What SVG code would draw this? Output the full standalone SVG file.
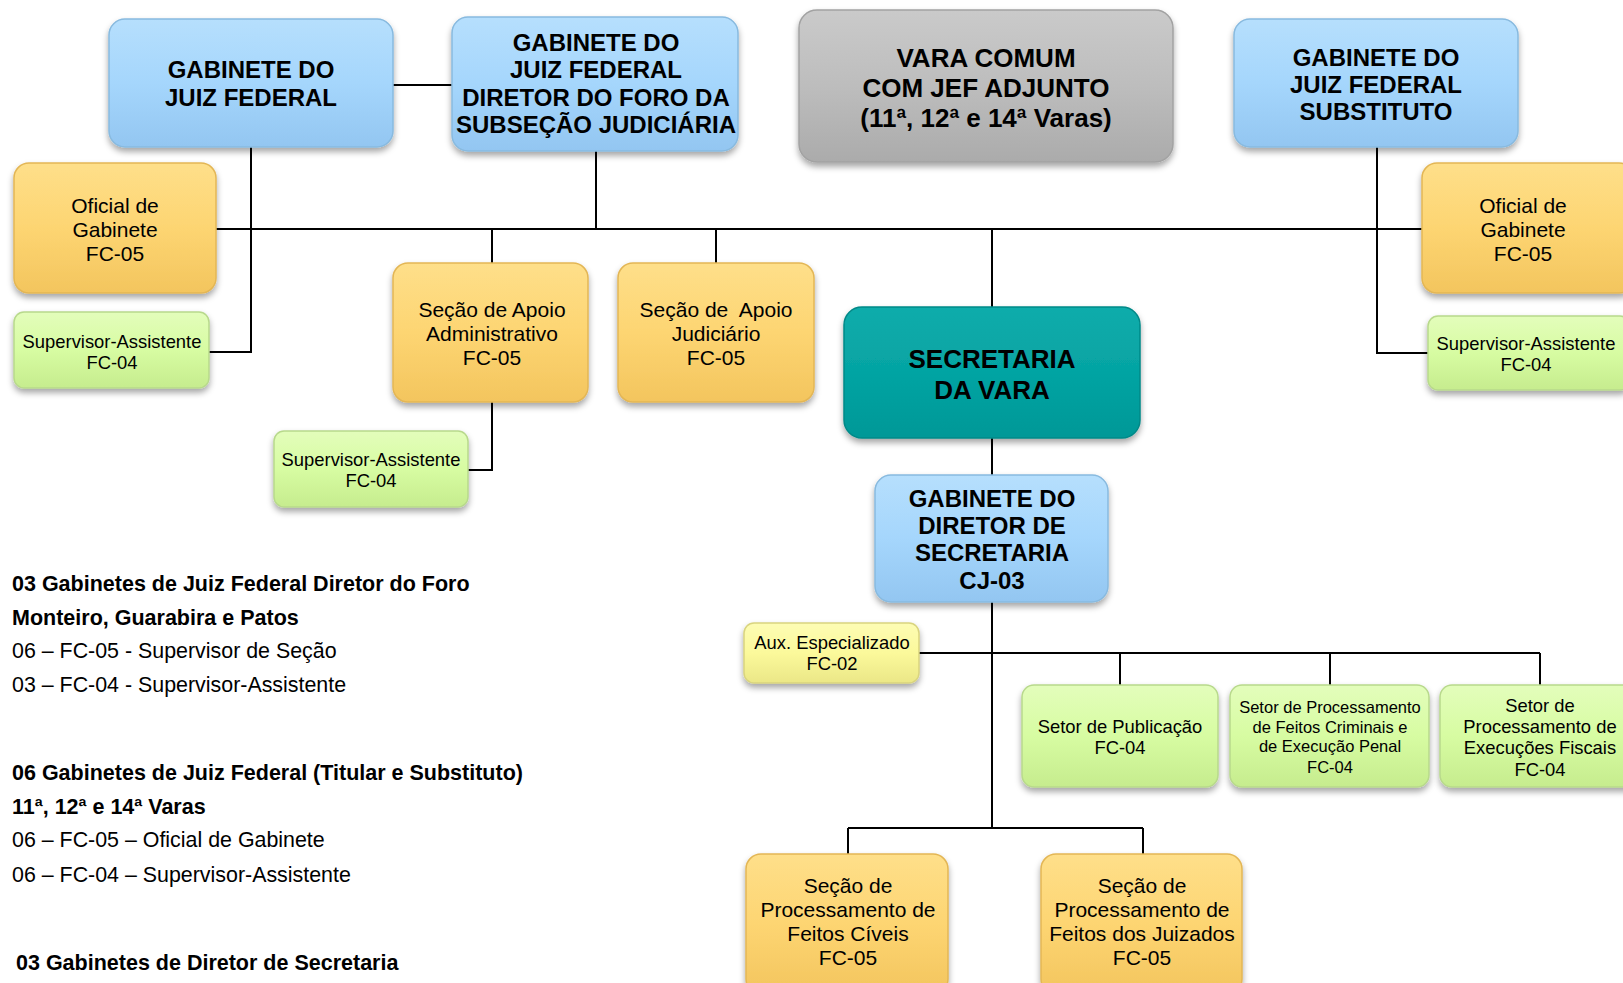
<svg xmlns="http://www.w3.org/2000/svg" width="1623" height="983" viewBox="0 0 1623 983">
<defs>
<linearGradient id="gBlue" x1="0" y1="0" x2="0" y2="1"><stop offset="0" stop-color="#b6dffd"/><stop offset="0.5" stop-color="#a5d6fc"/><stop offset="1" stop-color="#93c6f1"/></linearGradient>
<linearGradient id="gGray" x1="0" y1="0" x2="0" y2="1"><stop offset="0" stop-color="#cacaca"/><stop offset="0.5" stop-color="#bdbdbd"/><stop offset="1" stop-color="#ababab"/></linearGradient>
<linearGradient id="gOrange" x1="0" y1="0" x2="0" y2="1"><stop offset="0" stop-color="#fedf8a"/><stop offset="0.5" stop-color="#fdd572"/><stop offset="1" stop-color="#f3c55e"/></linearGradient>
<linearGradient id="gGreen" x1="0" y1="0" x2="0" y2="1"><stop offset="0" stop-color="#e3fdbb"/><stop offset="0.5" stop-color="#d7fca2"/><stop offset="1" stop-color="#c6ec8e"/></linearGradient>
<linearGradient id="gYellow" x1="0" y1="0" x2="0" y2="1"><stop offset="0" stop-color="#fdfcb4"/><stop offset="0.5" stop-color="#fbf99b"/><stop offset="1" stop-color="#ebe787"/></linearGradient>
<linearGradient id="gTeal" x1="0" y1="0" x2="0" y2="1"><stop offset="0" stop-color="#0eacab"/><stop offset="0.5" stop-color="#05a4a3"/><stop offset="1" stop-color="#049897"/></linearGradient>
<filter id="sh" x="-10%" y="-10%" width="120%" height="130%"><feDropShadow dx="0" dy="4" stdDeviation="3" flood-color="#000" flood-opacity="0.35"/></filter>
<style>
.blue{fill:url(#gBlue);stroke:#88badf;stroke-width:1.5;filter:url(#sh)}
.gray{fill:url(#gGray);stroke:#a2a2a2;stroke-width:1.5;filter:url(#sh)}
.orange{fill:url(#gOrange);stroke:#e3b655;stroke-width:1.5;filter:url(#sh)}
.green{fill:url(#gGreen);stroke:#b8d98c;stroke-width:1.5;filter:url(#sh)}
.yellow{fill:url(#gYellow);stroke:#d9d47f;stroke-width:1.5;filter:url(#sh)}
.teal{fill:url(#gTeal);stroke:#048988;stroke-width:1.5;filter:url(#sh)}
text{font-family:"Liberation Sans",Arial,sans-serif;fill:#000}
.hb{font-weight:bold;font-size:24px;text-anchor:middle}
.hv{font-weight:bold;font-size:26px;text-anchor:middle}
.hs{font-weight:bold;font-size:26px;text-anchor:middle}
.t21{font-size:21px;text-anchor:middle}
.t18{font-size:18.4px;text-anchor:middle}
.t16{font-size:16.5px;text-anchor:middle}
.lb{font-weight:bold;font-size:21.5px}
.ln{font-size:21.4px}
.conn{stroke:#000;stroke-width:2;fill:none}
</style>
</defs>

<g id="connectors">
<path class="conn" d="M393 85 H452"/>
<path class="conn" d="M251 147 V352 H209"/>
<path class="conn" d="M215 229 H1422"/>
<path class="conn" d="M596 151 V229"/>
<path class="conn" d="M492 229 V263"/>
<path class="conn" d="M716 229 V263"/>
<path class="conn" d="M992 229 V307"/>
<path class="conn" d="M1377 147 V353 H1428"/>
<path class="conn" d="M492 402 V470 H468"/>
<path class="conn" d="M992 438 V475"/>
<path class="conn" d="M992 602 V828"/>
<path class="conn" d="M919 653 H1540"/>
<path class="conn" d="M1120 653 V685"/>
<path class="conn" d="M1330 653 V685"/>
<path class="conn" d="M1540 653 V685"/>
<path class="conn" d="M848 828 H1143"/>
<path class="conn" d="M848 828 V854"/>
<path class="conn" d="M1143 828 V854"/>
</g>

<g id="gab-juiz-federal">
<rect class="blue" x="109" y="19" width="284" height="128" rx="16"/>
<text class="hb" x="251" y="78">GABINETE DO</text>
<text class="hb" x="251" y="106">JUIZ FEDERAL</text>
</g>

<g id="gab-diretor-foro">
<rect class="blue" x="452" y="17" width="286" height="134" rx="16"/>
<text class="hb" x="596" y="51">GABINETE DO</text>
<text class="hb" x="596" y="78">JUIZ FEDERAL</text>
<text class="hb" x="596" y="106">DIRETOR DO FORO DA</text>
<text class="hb" x="596" y="133">SUBSEÇÃO JUDICIÁRIA</text>
</g>

<g id="vara-comum">
<rect class="gray" x="799" y="10" width="374" height="152" rx="18"/>
<text class="hv" x="986" y="67">VARA COMUM</text>
<text class="hv" x="986" y="97">COM JEF ADJUNTO</text>
<text class="hv" x="986" y="127">(11ª, 12ª e 14ª Varas)</text>
</g>

<g id="gab-substituto">
<rect class="blue" x="1234" y="19" width="284" height="128" rx="16"/>
<text class="hb" x="1376" y="66">GABINETE DO</text>
<text class="hb" x="1376" y="93">JUIZ FEDERAL</text>
<text class="hb" x="1376" y="120">SUBSTITUTO</text>
</g>

<g id="oficial-left">
<rect class="orange" x="14" y="163" width="202" height="130" rx="15"/>
<text class="t21" x="115" y="213">Oficial de</text>
<text class="t21" x="115" y="237">Gabinete</text>
<text class="t21" x="115" y="261">FC-05</text>
</g>

<g id="sup-left">
<rect class="green" x="14" y="312" width="195" height="76" rx="10"/>
<text class="t18" x="112" y="348">Supervisor-Assistente</text>
<text class="t18" x="112" y="369">FC-04</text>
</g>

<g id="apoio-adm">
<rect class="orange" x="393" y="263" width="195" height="139" rx="15"/>
<text class="t21" x="492" y="317">Seção de Apoio</text>
<text class="t21" x="492" y="341">Administrativo</text>
<text class="t21" x="492" y="365">FC-05</text>
</g>

<g id="apoio-jud">
<rect class="orange" x="618" y="263" width="196" height="139" rx="15"/>
<text class="t21" x="716" y="317" xml:space="preserve">Seção de  Apoio</text>
<text class="t21" x="716" y="341">Judiciário</text>
<text class="t21" x="716" y="365">FC-05</text>
</g>

<g id="sup-adm">
<rect class="green" x="274" y="431" width="194" height="76" rx="10"/>
<text class="t18" x="371" y="466">Supervisor-Assistente</text>
<text class="t18" x="371" y="487">FC-04</text>
</g>

<g id="oficial-right">
<rect class="orange" x="1422" y="163" width="212" height="130" rx="15"/>
<text class="t21" x="1523" y="213">Oficial de</text>
<text class="t21" x="1523" y="237">Gabinete</text>
<text class="t21" x="1523" y="261">FC-05</text>
</g>

<g id="sup-right">
<rect class="green" x="1428" y="316" width="202" height="74" rx="10"/>
<text class="t18" x="1526" y="350">Supervisor-Assistente</text>
<text class="t18" x="1526" y="371">FC-04</text>
</g>

<g id="secretaria">
<rect class="teal" x="844" y="307" width="296" height="131" rx="18"/>
<text class="hs" x="992" y="368">SECRETARIA</text>
<text class="hs" x="992" y="399">DA VARA</text>
</g>

<g id="gab-diretor-secretaria">
<rect class="blue" x="875" y="475" width="233" height="127" rx="16"/>
<text class="hb" x="992" y="507">GABINETE DO</text>
<text class="hb" x="992" y="534">DIRETOR DE</text>
<text class="hb" x="992" y="561">SECRETARIA</text>
<text class="hb" x="992" y="589">CJ-03</text>
</g>

<g id="aux-especializado">
<rect class="yellow" x="744" y="623" width="175" height="60" rx="10"/>
<text class="t18" x="832" y="649">Aux. Especializado</text>
<text class="t18" x="832" y="670">FC-02</text>
</g>

<g id="setor-publicacao">
<rect class="green" x="1022" y="685" width="196" height="102" rx="12"/>
<text class="t18" x="1120" y="733">Setor de Publicação</text>
<text class="t18" x="1120" y="754">FC-04</text>
</g>

<g id="setor-criminais">
<rect class="green" x="1230" y="685" width="199" height="102" rx="12"/>
<text class="t16" x="1330" y="713">Setor de Processamento</text>
<text class="t16" x="1330" y="733">de Feitos Criminais e</text>
<text class="t16" x="1330" y="752">de Execução Penal</text>
<text class="t16" x="1330" y="773">FC-04</text>
</g>

<g id="setor-fiscais">
<rect class="green" x="1440" y="685" width="200" height="102" rx="12"/>
<text class="t18" x="1540" y="712">Setor de</text>
<text class="t18" x="1540" y="733">Processamento de</text>
<text class="t18" x="1540" y="754">Execuções Fiscais</text>
<text class="t18" x="1540" y="776">FC-04</text>
</g>

<g id="secao-civeis">
<rect class="orange" x="746" y="854" width="202" height="140" rx="15"/>
<text class="t21" x="848" y="893">Seção de</text>
<text class="t21" x="848" y="917">Processamento de</text>
<text class="t21" x="848" y="941">Feitos Cíveis</text>
<text class="t21" x="848" y="965">FC-05</text>
</g>

<g id="secao-juizados">
<rect class="orange" x="1041" y="854" width="201" height="140" rx="15"/>
<text class="t21" x="1142" y="893">Seção de</text>
<text class="t21" x="1142" y="917">Processamento de</text>
<text class="t21" x="1142" y="941">Feitos dos Juizados</text>
<text class="t21" x="1142" y="965">FC-05</text>
</g>

<g id="legend">
<text class="lb" x="12" y="591">03 Gabinetes de Juiz Federal Diretor do Foro</text>
<text class="lb" x="12" y="625">Monteiro, Guarabira e Patos</text>
<text class="ln" x="12" y="658">06 – FC-05 - Supervisor de Seção</text>
<text class="ln" x="12" y="692">03 – FC-04 - Supervisor-Assistente</text>
<text class="lb" x="12" y="780">06 Gabinetes de Juiz Federal (Titular e Substituto)</text>
<text class="lb" x="12" y="814">11ª, 12ª e 14ª Varas</text>
<text class="ln" x="12" y="847">06 – FC-05 – Oficial de Gabinete</text>
<text class="ln" x="12" y="882">06 – FC-04 – Supervisor-Assistente</text>
<text class="lb" x="16" y="970">03 Gabinetes de Diretor de Secretaria</text>
</g>
</svg>
